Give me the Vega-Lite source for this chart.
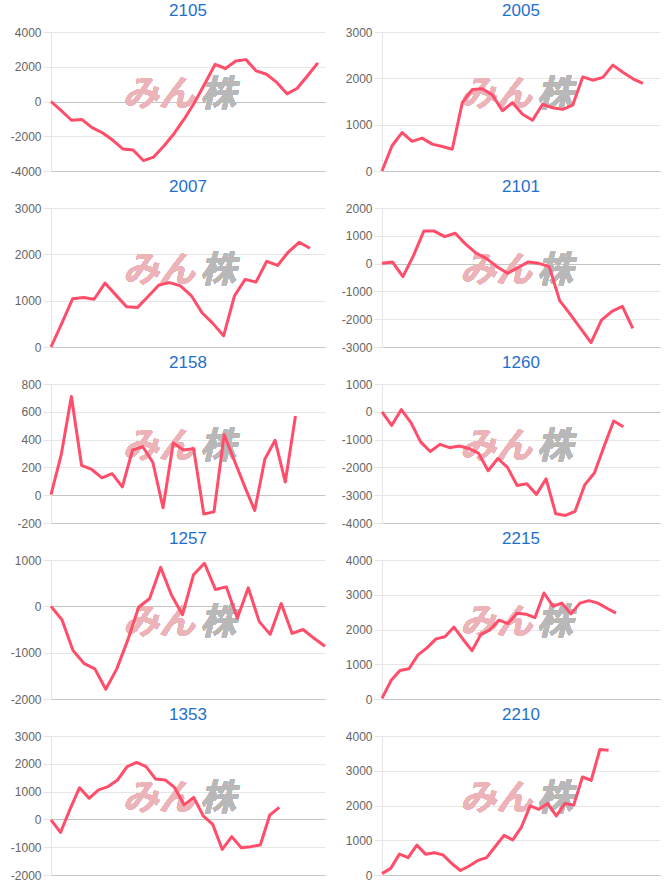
{
  "$schema": "https://vega.github.io/schema/vega-lite/v6.json",
  "padding": {"left": 10, "top": 2, "right": 8, "bottom": 0},
  "background": "white",
  "datasets": {
    "p2105": [{"i":0,"v":0},{"i":1,"v":-530},{"i":2,"v":-1080},{"i":3,"v":-1030},{"i":4,"v":-1500},{"i":5,"v":-1800},{"i":6,"v":-2220},{"i":7,"v":-2730},{"i":8,"v":-2790},{"i":9,"v":-3400},{"i":10,"v":-3200},{"i":11,"v":-2560},{"i":12,"v":-1840},{"i":13,"v":-990},{"i":14,"v":-40},{"i":15,"v":1040},{"i":16,"v":2140},{"i":17,"v":1900},{"i":18,"v":2330},{"i":19,"v":2410},{"i":20,"v":1760},{"i":21,"v":1570},{"i":22,"v":1100},{"i":23,"v":440},{"i":24,"v":760},{"i":25,"v":1480},{"i":26,"v":2220}],
    "p2005": [{"i":0,"v":0},{"i":1,"v":545},{"i":2,"v":830},{"i":3,"v":640},{"i":4,"v":710},{"i":5,"v":580},{"i":6,"v":530},{"i":7,"v":470},{"i":8,"v":1475},{"i":9,"v":1760},{"i":10,"v":1775},{"i":11,"v":1640},{"i":12,"v":1300},{"i":13,"v":1475},{"i":14,"v":1225},{"i":15,"v":1095},{"i":16,"v":1440},{"i":17,"v":1365},{"i":18,"v":1330},{"i":19,"v":1420},{"i":20,"v":2030},{"i":21,"v":1960},{"i":22,"v":2020},{"i":23,"v":2285},{"i":24,"v":2130},{"i":25,"v":1990},{"i":26,"v":1890}],
    "p2007": [{"i":0,"v":0},{"i":1,"v":510},{"i":2,"v":1040},{"i":3,"v":1070},{"i":4,"v":1030},{"i":5,"v":1380},{"i":6,"v":1125},{"i":7,"v":870},{"i":8,"v":850},{"i":9,"v":1090},{"i":10,"v":1340},{"i":11,"v":1390},{"i":12,"v":1320},{"i":13,"v":1110},{"i":14,"v":740},{"i":15,"v":510},{"i":16,"v":240},{"i":17,"v":1100},{"i":18,"v":1460},{"i":19,"v":1400},{"i":20,"v":1850},{"i":21,"v":1760},{"i":22,"v":2050},{"i":23,"v":2260},{"i":24,"v":2130}],
    "p2101": [{"i":0,"v":10},{"i":1,"v":60},{"i":2,"v":-470},{"i":3,"v":280},{"i":4,"v":1170},{"i":5,"v":1170},{"i":6,"v":970},{"i":7,"v":1090},{"i":8,"v":700},{"i":9,"v":380},{"i":10,"v":180},{"i":11,"v":-110},{"i":12,"v":-350},{"i":13,"v":-150},{"i":14,"v":60},{"i":15,"v":10},{"i":16,"v":-110},{"i":17,"v":-1330},{"i":18,"v":-1820},{"i":19,"v":-2330},{"i":20,"v":-2840},{"i":21,"v":-2030},{"i":22,"v":-1720},{"i":23,"v":-1540},{"i":24,"v":-2330}],
    "p2158": [{"i":0,"v":5},{"i":1,"v":290},{"i":2,"v":710},{"i":3,"v":215},{"i":4,"v":185},{"i":5,"v":125},{"i":6,"v":155},{"i":7,"v":60},{"i":8,"v":325},{"i":9,"v":350},{"i":10,"v":235},{"i":11,"v":-90},{"i":12,"v":375},{"i":13,"v":325},{"i":14,"v":335},{"i":15,"v":-135},{"i":16,"v":-120},{"i":17,"v":435},{"i":18,"v":250},{"i":19,"v":65},{"i":20,"v":-110},{"i":21,"v":260},{"i":22,"v":395},{"i":23,"v":95},{"i":24,"v":570}],
    "p1260": [{"i":0,"v":0},{"i":1,"v":-490},{"i":2,"v":80},{"i":3,"v":-390},{"i":4,"v":-1080},{"i":5,"v":-1430},{"i":6,"v":-1170},{"i":7,"v":-1290},{"i":8,"v":-1230},{"i":9,"v":-1320},{"i":10,"v":-1490},{"i":11,"v":-2120},{"i":12,"v":-1680},{"i":13,"v":-2000},{"i":14,"v":-2650},{"i":15,"v":-2590},{"i":16,"v":-2970},{"i":17,"v":-2410},{"i":18,"v":-3670},{"i":19,"v":-3730},{"i":20,"v":-3580},{"i":21,"v":-2630},{"i":22,"v":-2200},{"i":23,"v":-1250},{"i":24,"v":-330},{"i":25,"v":-540}],
    "p1257": [{"i":0,"v":0},{"i":1,"v":-290},{"i":2,"v":-950},{"i":3,"v":-1230},{"i":4,"v":-1350},{"i":5,"v":-1790},{"i":6,"v":-1350},{"i":7,"v":-730},{"i":8,"v":-20},{"i":9,"v":170},{"i":10,"v":840},{"i":11,"v":240},{"i":12,"v":-180},{"i":13,"v":680},{"i":14,"v":930},{"i":15,"v":365},{"i":16,"v":420},{"i":17,"v":-255},{"i":18,"v":400},{"i":19,"v":-330},{"i":20,"v":-605},{"i":21,"v":60},{"i":22,"v":-585},{"i":23,"v":-500},{"i":24,"v":-690},{"i":25,"v":-860}],
    "p2215": [{"i":0,"v":20},{"i":1,"v":530},{"i":2,"v":820},{"i":3,"v":870},{"i":4,"v":1270},{"i":5,"v":1470},{"i":6,"v":1730},{"i":7,"v":1790},{"i":8,"v":2070},{"i":9,"v":1720},{"i":10,"v":1390},{"i":11,"v":1860},{"i":12,"v":1990},{"i":13,"v":2270},{"i":14,"v":2170},{"i":15,"v":2470},{"i":16,"v":2440},{"i":17,"v":2340},{"i":18,"v":3050},{"i":19,"v":2670},{"i":20,"v":2760},{"i":21,"v":2450},{"i":22,"v":2760},{"i":23,"v":2830},{"i":24,"v":2760},{"i":25,"v":2610},{"i":26,"v":2470}],
    "p1353": [{"i":0,"v":-20},{"i":1,"v":-470},{"i":2,"v":370},{"i":3,"v":1140},{"i":4,"v":760},{"i":5,"v":1060},{"i":6,"v":1180},{"i":7,"v":1420},{"i":8,"v":1900},{"i":9,"v":2050},{"i":10,"v":1900},{"i":11,"v":1450},{"i":12,"v":1420},{"i":13,"v":1140},{"i":14,"v":520},{"i":15,"v":790},{"i":16,"v":130},{"i":17,"v":-180},{"i":18,"v":-1080},{"i":19,"v":-620},{"i":20,"v":-1020},{"i":21,"v":-980},{"i":22,"v":-920},{"i":23,"v":160},{"i":24,"v":430}],
    "p2210": [{"i":0,"v":40},{"i":1,"v":190},{"i":2,"v":600},{"i":3,"v":500},{"i":4,"v":860},{"i":5,"v":600},{"i":6,"v":640},{"i":7,"v":580},{"i":8,"v":330},{"i":9,"v":130},{"i":10,"v":260},{"i":11,"v":420},{"i":12,"v":500},{"i":13,"v":820},{"i":14,"v":1140},{"i":15,"v":1010},{"i":16,"v":1380},{"i":17,"v":1990},{"i":18,"v":1890},{"i":19,"v":2060},{"i":20,"v":1700},{"i":21,"v":2060},{"i":22,"v":2010},{"i":23,"v":2820},{"i":24,"v":2720},{"i":25,"v":3610},{"i":26,"v":3590}]
  },
  "columns": 2,
  "spacing": {"row": 1, "column": 14},
  "concat": [
    {"title": "2105", "width": 274, "height": 139, "data": {"name": "p2105"},
     "layer": [
       {"mark": {"type": "text", "text": "みん", "font": "Noto Sans CJK JP", "fontSize": 36, "fontWeight": "bold", "fontStyle": "italic", "color": "#ecb4b8", "align": "right", "baseline": "middle"}, "encoding": {"x": {"datum": 14.02, "type": "quantitative"}, "y": {"datum": 400, "type": "quantitative", "axis": {"values": [-4000, -2000, 0, 2000, 4000]}}}},
       {"mark": {"type": "text", "text": "株", "font": "Noto Sans CJK JP", "fontSize": 36, "fontWeight": "bold", "fontStyle": "italic", "color": "#b8b8b8", "align": "left", "baseline": "middle"}, "encoding": {"x": {"datum": 14.52, "type": "quantitative"}, "y": {"datum": 400, "type": "quantitative", "axis": {"values": [-4000, -2000, 0, 2000, 4000]}}}},
       {"mark": {"type": "line", "color": "#ff4d6a", "strokeWidth": 3, "strokeJoin": "round"},
        "encoding": {"x": {"field": "i", "type": "quantitative", "scale": {"domain": [0, 26.7], "nice": false, "zero": false}},
                     "y": {"field": "v", "type": "quantitative", "scale": {"domain": [-4000, 4000], "nice": false}, "axis": {"values": [-4000, -2000, 0, 2000, 4000]}}}}
     ]},
    {"title": "2005", "width": 278, "height": 139, "data": {"name": "p2005"},
     "layer": [
       {"mark": {"type": "text", "text": "みん", "font": "Noto Sans CJK JP", "fontSize": 36, "fontWeight": "bold", "fontStyle": "italic", "color": "#ecb4b8", "align": "right", "baseline": "middle"}, "encoding": {"x": {"datum": 14.96, "type": "quantitative"}, "y": {"datum": 1650, "type": "quantitative", "axis": {"values": [0, 1000, 2000, 3000]}}}},
       {"mark": {"type": "text", "text": "株", "font": "Noto Sans CJK JP", "fontSize": 36, "fontWeight": "bold", "fontStyle": "italic", "color": "#b8b8b8", "align": "left", "baseline": "middle"}, "encoding": {"x": {"datum": 15.43, "type": "quantitative"}, "y": {"datum": 1650, "type": "quantitative", "axis": {"values": [0, 1000, 2000, 3000]}}}},
       {"mark": {"type": "line", "color": "#ff4d6a", "strokeWidth": 3, "strokeJoin": "round"},
        "encoding": {"x": {"field": "i", "type": "quantitative", "scale": {"domain": [0, 27.7], "nice": false, "zero": false}},
                     "y": {"field": "v", "type": "quantitative", "scale": {"domain": [0, 3000], "nice": false}, "axis": {"values": [0, 1000, 2000, 3000]}}}}
     ]},
    {"title": "2007", "width": 274, "height": 139, "data": {"name": "p2007"},
     "layer": [
       {"mark": {"type": "text", "text": "みん", "font": "Noto Sans CJK JP", "fontSize": 36, "fontWeight": "bold", "fontStyle": "italic", "color": "#ecb4b8", "align": "right", "baseline": "middle"}, "encoding": {"x": {"datum": 13.34, "type": "quantitative"}, "y": {"datum": 1650, "type": "quantitative", "axis": {"values": [0, 1000, 2000, 3000]}}}},
       {"mark": {"type": "text", "text": "株", "font": "Noto Sans CJK JP", "fontSize": 36, "fontWeight": "bold", "fontStyle": "italic", "color": "#b8b8b8", "align": "left", "baseline": "middle"}, "encoding": {"x": {"datum": 13.82, "type": "quantitative"}, "y": {"datum": 1650, "type": "quantitative", "axis": {"values": [0, 1000, 2000, 3000]}}}},
       {"mark": {"type": "line", "color": "#ff4d6a", "strokeWidth": 3, "strokeJoin": "round"},
        "encoding": {"x": {"field": "i", "type": "quantitative", "scale": {"domain": [0, 25.4], "nice": false, "zero": false}},
                     "y": {"field": "v", "type": "quantitative", "scale": {"domain": [0, 3000], "nice": false}, "axis": {"values": [0, 1000, 2000, 3000]}}}}
     ]},
    {"title": "2101", "width": 278, "height": 139, "data": {"name": "p2101"},
     "layer": [
       {"mark": {"type": "text", "text": "みん", "font": "Noto Sans CJK JP", "fontSize": 36, "fontWeight": "bold", "fontStyle": "italic", "color": "#ecb4b8", "align": "right", "baseline": "middle"}, "encoding": {"x": {"datum": 14.36, "type": "quantitative"}, "y": {"datum": -250, "type": "quantitative", "axis": {"values": [-3000, -2000, -1000, 0, 1000, 2000]}}}},
       {"mark": {"type": "text", "text": "株", "font": "Noto Sans CJK JP", "fontSize": 36, "fontWeight": "bold", "fontStyle": "italic", "color": "#b8b8b8", "align": "left", "baseline": "middle"}, "encoding": {"x": {"datum": 14.82, "type": "quantitative"}, "y": {"datum": -250, "type": "quantitative", "axis": {"values": [-3000, -2000, -1000, 0, 1000, 2000]}}}},
       {"mark": {"type": "line", "color": "#ff4d6a", "strokeWidth": 3, "strokeJoin": "round"},
        "encoding": {"x": {"field": "i", "type": "quantitative", "scale": {"domain": [0, 26.6], "nice": false, "zero": false}},
                     "y": {"field": "v", "type": "quantitative", "scale": {"domain": [-3000, 2000], "nice": false}, "axis": {"values": [-3000, -2000, -1000, 0, 1000, 2000]}}}}
     ]},
    {"title": "2158", "width": 274, "height": 139, "data": {"name": "p2158"},
     "layer": [
       {"mark": {"type": "text", "text": "みん", "font": "Noto Sans CJK JP", "fontSize": 36, "fontWeight": "bold", "fontStyle": "italic", "color": "#ecb4b8", "align": "right", "baseline": "middle"}, "encoding": {"x": {"datum": 14.12, "type": "quantitative"}, "y": {"datum": 350, "type": "quantitative", "axis": {"values": [-200, 0, 200, 400, 600, 800]}}}},
       {"mark": {"type": "text", "text": "株", "font": "Noto Sans CJK JP", "fontSize": 36, "fontWeight": "bold", "fontStyle": "italic", "color": "#b8b8b8", "align": "left", "baseline": "middle"}, "encoding": {"x": {"datum": 14.63, "type": "quantitative"}, "y": {"datum": 350, "type": "quantitative", "axis": {"values": [-200, 0, 200, 400, 600, 800]}}}},
       {"mark": {"type": "line", "color": "#ff4d6a", "strokeWidth": 3, "strokeJoin": "round"},
        "encoding": {"x": {"field": "i", "type": "quantitative", "scale": {"domain": [0, 26.9], "nice": false, "zero": false}},
                     "y": {"field": "v", "type": "quantitative", "scale": {"domain": [-200, 800], "nice": false}, "axis": {"values": [-200, 0, 200, 400, 600, 800]}}}}
     ]},
    {"title": "1260", "width": 278, "height": 139, "data": {"name": "p1260"},
     "layer": [
       {"mark": {"type": "text", "text": "みん", "font": "Noto Sans CJK JP", "fontSize": 36, "fontWeight": "bold", "fontStyle": "italic", "color": "#ecb4b8", "align": "right", "baseline": "middle"}, "encoding": {"x": {"datum": 15.55, "type": "quantitative"}, "y": {"datum": -1250, "type": "quantitative", "axis": {"values": [-4000, -3000, -2000, -1000, 0, 1000]}}}},
       {"mark": {"type": "text", "text": "株", "font": "Noto Sans CJK JP", "fontSize": 36, "fontWeight": "bold", "fontStyle": "italic", "color": "#b8b8b8", "align": "left", "baseline": "middle"}, "encoding": {"x": {"datum": 16.04, "type": "quantitative"}, "y": {"datum": -1250, "type": "quantitative", "axis": {"values": [-4000, -3000, -2000, -1000, 0, 1000]}}}},
       {"mark": {"type": "line", "color": "#ff4d6a", "strokeWidth": 3, "strokeJoin": "round"},
        "encoding": {"x": {"field": "i", "type": "quantitative", "scale": {"domain": [0, 28.8], "nice": false, "zero": false}},
                     "y": {"field": "v", "type": "quantitative", "scale": {"domain": [-4000, 1000], "nice": false}, "axis": {"values": [-4000, -3000, -2000, -1000, 0, 1000]}}}}
     ]},
    {"title": "1257", "width": 274, "height": 139, "data": {"name": "p1257"},
     "layer": [
       {"mark": {"type": "text", "text": "みん", "font": "Noto Sans CJK JP", "fontSize": 36, "fontWeight": "bold", "fontStyle": "italic", "color": "#ecb4b8", "align": "right", "baseline": "middle"}, "encoding": {"x": {"datum": 13.13, "type": "quantitative"}, "y": {"datum": -350, "type": "quantitative", "axis": {"values": [-2000, -1000, 0, 1000]}}}},
       {"mark": {"type": "text", "text": "株", "font": "Noto Sans CJK JP", "fontSize": 36, "fontWeight": "bold", "fontStyle": "italic", "color": "#b8b8b8", "align": "left", "baseline": "middle"}, "encoding": {"x": {"datum": 13.6, "type": "quantitative"}, "y": {"datum": -350, "type": "quantitative", "axis": {"values": [-2000, -1000, 0, 1000]}}}},
       {"mark": {"type": "line", "color": "#ff4d6a", "strokeWidth": 3, "strokeJoin": "round"},
        "encoding": {"x": {"field": "i", "type": "quantitative", "scale": {"domain": [0, 25], "nice": false, "zero": false}},
                     "y": {"field": "v", "type": "quantitative", "scale": {"domain": [-2000, 1000], "nice": false}, "axis": {"values": [-2000, -1000, 0, 1000]}}}}
     ]},
    {"title": "2215", "width": 278, "height": 139, "data": {"name": "p2215"},
     "layer": [
       {"mark": {"type": "text", "text": "みん", "font": "Noto Sans CJK JP", "fontSize": 36, "fontWeight": "bold", "fontStyle": "italic", "color": "#ecb4b8", "align": "right", "baseline": "middle"}, "encoding": {"x": {"datum": 16.69, "type": "quantitative"}, "y": {"datum": 2200, "type": "quantitative", "axis": {"values": [0, 1000, 2000, 3000, 4000]}}}},
       {"mark": {"type": "text", "text": "株", "font": "Noto Sans CJK JP", "fontSize": 36, "fontWeight": "bold", "fontStyle": "italic", "color": "#b8b8b8", "align": "left", "baseline": "middle"}, "encoding": {"x": {"datum": 17.21, "type": "quantitative"}, "y": {"datum": 2200, "type": "quantitative", "axis": {"values": [0, 1000, 2000, 3000, 4000]}}}},
       {"mark": {"type": "line", "color": "#ff4d6a", "strokeWidth": 3, "strokeJoin": "round"},
        "encoding": {"x": {"field": "i", "type": "quantitative", "scale": {"domain": [0, 30.9], "nice": false, "zero": false}},
                     "y": {"field": "v", "type": "quantitative", "scale": {"domain": [0, 4000], "nice": false}, "axis": {"values": [0, 1000, 2000, 3000, 4000]}}}}
     ]},
    {"title": "1353", "width": 274, "height": 139, "data": {"name": "p1353"},
     "layer": [
       {"mark": {"type": "text", "text": "みん", "font": "Noto Sans CJK JP", "fontSize": 36, "fontWeight": "bold", "fontStyle": "italic", "color": "#ecb4b8", "align": "right", "baseline": "middle"}, "encoding": {"x": {"datum": 15.12, "type": "quantitative"}, "y": {"datum": 750, "type": "quantitative", "axis": {"values": [-2000, -1000, 0, 1000, 2000, 3000]}}}},
       {"mark": {"type": "text", "text": "株", "font": "Noto Sans CJK JP", "fontSize": 36, "fontWeight": "bold", "fontStyle": "italic", "color": "#b8b8b8", "align": "left", "baseline": "middle"}, "encoding": {"x": {"datum": 15.67, "type": "quantitative"}, "y": {"datum": 750, "type": "quantitative", "axis": {"values": [-2000, -1000, 0, 1000, 2000, 3000]}}}},
       {"mark": {"type": "line", "color": "#ff4d6a", "strokeWidth": 3, "strokeJoin": "round"},
        "encoding": {"x": {"field": "i", "type": "quantitative", "scale": {"domain": [0, 28.8], "nice": false, "zero": false}},
                     "y": {"field": "v", "type": "quantitative", "scale": {"domain": [-2000, 3000], "nice": false}, "axis": {"values": [-2000, -1000, 0, 1000, 2000, 3000]}}}}
     ]},
    {"title": "2210", "width": 278, "height": 139, "data": {"name": "p2210"},
     "layer": [
       {"mark": {"type": "text", "text": "みん", "font": "Noto Sans CJK JP", "fontSize": 36, "fontWeight": "bold", "fontStyle": "italic", "color": "#ecb4b8", "align": "right", "baseline": "middle"}, "encoding": {"x": {"datum": 17.23, "type": "quantitative"}, "y": {"datum": 2200, "type": "quantitative", "axis": {"values": [0, 1000, 2000, 3000, 4000]}}}},
       {"mark": {"type": "text", "text": "株", "font": "Noto Sans CJK JP", "fontSize": 36, "fontWeight": "bold", "fontStyle": "italic", "color": "#b8b8b8", "align": "left", "baseline": "middle"}, "encoding": {"x": {"datum": 17.77, "type": "quantitative"}, "y": {"datum": 2200, "type": "quantitative", "axis": {"values": [0, 1000, 2000, 3000, 4000]}}}},
       {"mark": {"type": "line", "color": "#ff4d6a", "strokeWidth": 3, "strokeJoin": "round"},
        "encoding": {"x": {"field": "i", "type": "quantitative", "scale": {"domain": [0, 31.9], "nice": false, "zero": false}},
                     "y": {"field": "v", "type": "quantitative", "scale": {"domain": [0, 4000], "nice": false}, "axis": {"values": [0, 1000, 2000, 3000, 4000]}}}}
     ]}
  ],
  "config": {
    "view": {"stroke": null},
    "font": "Liberation Sans",
    "axisY": {"title": null, "grid": true, "gridColor": {"condition": {"test": "datum.value === 0", "value": "#c4c4c4"}, "value": "#e6e6e6"}, "tickColor": "#e6e6e6", "tickSize": 8, "labelPadding": 2, "labelColor": "#666666", "labelFont": "Liberation Sans", "labelFontSize": 12, "labelOverlap": false, "labelExpr": "'' + datum.value", "domainColor": "#e6e6e6", "minExtent": 0},
    "axisX": {"title": null, "labels": false, "ticks": false, "grid": false, "domainColor": "#c8c8c8", "minExtent": 0, "maxExtent": 0},
    "title": {"color": "#1f6fd1", "font": "Liberation Sans", "fontSize": 17, "fontWeight": "normal", "anchor": "middle", "offset": 6}
  }
}
